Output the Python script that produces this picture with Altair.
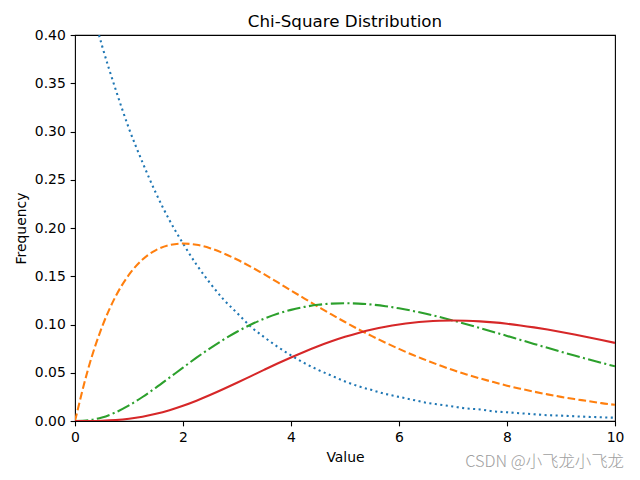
import altair as alt
import pandas as pd

x_vals = [i * 0.25 for i in range(41)]

df2 = [0.500, 0.441, 0.389, 0.344, 0.303, 0.268, 0.236, 0.208, 0.184, 0.162,
       0.143, 0.126, 0.112, 0.098, 0.087, 0.077, 0.068, 0.060, 0.053, 0.047,
       0.041, 0.036, 0.032, 0.028, 0.025, 0.022, 0.019, 0.017, 0.015, 0.013,
       0.012, 0.010, 0.009, 0.008, 0.007, 0.006, 0.0056, 0.0049, 0.0043, 0.0038, 0.0034]

df4 = [0.0, 0.0552, 0.0974, 0.1289, 0.1516, 0.1673, 0.1771, 0.1824, 0.1839, 0.1826,
       0.1791, 0.1738, 0.1673, 0.1600, 0.1521, 0.1438, 0.1353, 0.1269, 0.1186, 0.1104,
       0.1026, 0.0950, 0.0879, 0.0811, 0.0747, 0.0686, 0.0631, 0.0577, 0.0528, 0.0482,
       0.0441, 0.0403, 0.0366, 0.0334, 0.0304, 0.0276, 0.0250, 0.0227, 0.0207, 0.0185, 0.0168]

df7 = [0.0, 0.00073, 0.00366, 0.00890, 0.01613, 0.02487, 0.03462, 0.04492, 0.05535, 0.06558,
       0.07530, 0.08432, 0.09249, 0.09971, 0.10593, 0.11110, 0.11515, 0.11825, 0.12042, 0.12163,
       0.12206, 0.12167, 0.12062, 0.11896, 0.11677, 0.11412, 0.11107, 0.10774, 0.10412, 0.10031,
       0.09636, 0.09230, 0.08818, 0.08404, 0.07991, 0.07582, 0.07180, 0.06785, 0.06401, 0.06027, 0.05667]

df9 = [0.0, 0.000026, 0.000262, 0.000954, 0.002304, 0.004441, 0.007419, 0.011230, 0.015815, 0.021079,
       0.026893, 0.033126, 0.039641, 0.046296, 0.052969, 0.059520, 0.065802, 0.071795, 0.077414, 0.082536,
       0.087191, 0.091257, 0.094778, 0.097723, 0.10009, 0.10190, 0.10314, 0.10389, 0.10412, 0.10390,
       0.10324, 0.10219, 0.10078, 0.09905, 0.09704, 0.09478, 0.09231, 0.08966, 0.08687, 0.08395, 0.08096]

series = [
    ("df=2", df2, "#1f77b4", [2.08, 3.44]),
    ("df=4", df4, "#ff7f0e", [7.7, 3.33]),
    ("df=7", df7, "#2ca02c", [13.3, 3.33, 2.08, 3.33]),
    ("df=9", df9, "#d62728", None),
]

xs = alt.X("x:Q", title="Value",
           scale=alt.Scale(domain=[0, 10], nice=False, zero=False),
           axis=alt.Axis(values=[0, 2, 4, 6, 8, 10], format="d", labelFlush=False))
ys = alt.Y("y:Q", title="Frequency",
           scale=alt.Scale(domain=[0, 0.4], nice=False),
           axis=alt.Axis(values=[0, 0.05, 0.1, 0.15, 0.2, 0.25, 0.3, 0.35, 0.4],
                         format=".2f", labelFlush=False))

layers = []
for name, vals, color, dash in series:
    d = pd.DataFrame({"x": x_vals, "y": vals, "s": name})
    mark_kwargs = dict(color=color, strokeWidth=2.08, clip=True, interpolate="monotone")
    if dash:
        mark_kwargs["strokeDash"] = dash
    layers.append(alt.Chart(d).mark_line(**mark_kwargs).encode(x=xs, y=ys))

wm = alt.Chart(pd.DataFrame({"t": ["CSDN @小飞龙小飞龙"]})).mark_text(
    align="right", baseline="middle", fontSize=16.4, color="#a0a0a0",
    font="Noto Sans CJK SC", fontWeight=300
).encode(x=alt.value(549), y=alt.value(427), text="t:N")

chart = alt.layer(*layers, wm).properties(
    width=540, height=386,
    title=alt.TitleParams("Chi-Square Distribution", fontSize=16.7, font="DejaVu Sans",
                          fontWeight="normal", color="black", offset=-3),
    autosize=alt.AutoSizeParams(type="none"),
    padding={"left": 75, "top": 35, "right": 25, "bottom": 59},
).configure_view(
    stroke="black", strokeWidth=1.1
).configure_axis(
    grid=False, domain=False, tickColor="black", tickWidth=1.1, tickSize=4.86,
    labelFont="DejaVu Sans", labelFontSize=13.9, labelColor="black", labelPadding=4.9,
    titleFont="DejaVu Sans", titleFontSize=13.9, titleColor="black", titleFontWeight="normal",
    labelOverlap=False,
).configure_axisX(titlePadding=5.5).configure_axisY(titlePadding=5.5)

chart.save("out.html", embed_options={"renderer": "svg", "actions": False})
